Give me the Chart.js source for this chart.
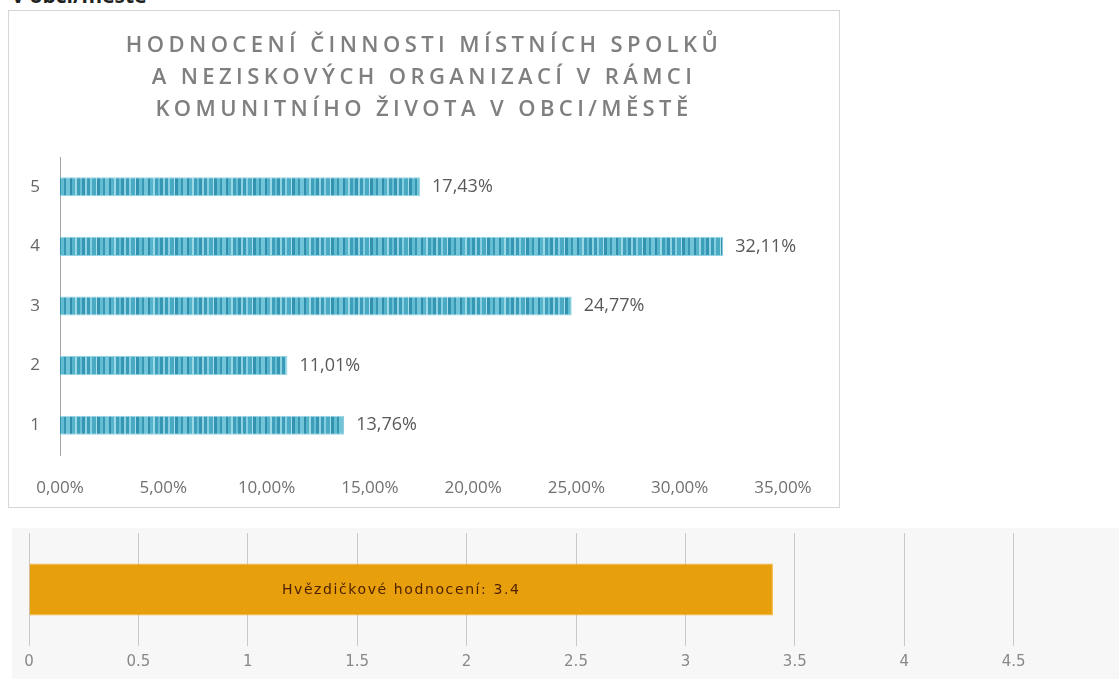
<!DOCTYPE html>
<html>
<head>
<meta charset="utf-8">
<script src="https://cdn.jsdelivr.net/npm/chart.js@4.4.1/dist/chart.umd.min.js"></script>
<style>
  body { margin: 0; width: 1119px; height: 679px; overflow: hidden; position: relative; background: #fff; }
  #head { position: absolute; left: 12px; top: -15px; font: bold 21px/21px "Open Sans", sans-serif; color: #222; white-space: nowrap; }
  #box1 { position: absolute; left: 8px; top: 10px; width: 830px; height: 496px; border: 1px solid #d6d6d6; }
  #title1 { position: absolute; left: 0; right: 0; top: 16px; text-align: center; color: #7f7f7f;
            font: 600 22px/32px "Open Sans", sans-serif; letter-spacing: 4.4px; }
  #box2 { position: absolute; left: 12px; top: 528px; width: 1130px; height: 151px; background: #f7f7f7; }
  canvas { position: absolute; left: 0; top: 0; }
</style>
</head>
<body>
<div id="head">v obci/městě</div>
<div id="box1">
  <canvas id="ratingChart" width="830" height="496"></canvas>
  <div id="title1">HODNOCENÍ ČINNOSTI MÍSTNÍCH SPOLKŮ<br>A NEZISKOVÝCH ORGANIZACÍ V RÁMCI<br>KOMUNITNÍHO ŽIVOTA V OBCI/MĚSTĚ</div>
</div>
<div id="box2">
  <canvas id="starChart" width="1130" height="151"></canvas>
</div>
<script>
const ratingLabels = ["5", "4", "3", "2", "1"];
const ratingShares = [17.43, 32.11, 24.77, 11.01, 13.76];
const starLabels = ["Hvězdičkové hodnocení"];
const starValues = [3.4];

// pruhovaná výplň sloupců
function stripePattern() {
  const stripes = [
    [3, "#3a9cb8"], [2, "#86cfe0"], [4, "#4aaac4"], [1, "#a8deeb"], [3, "#3193b0"],
    [3, "#62bcd2"], [2, "#3898b4"], [4, "#72c5d9"], [2, "#2f8fac"], [3, "#55b4cb"],
    [2, "#9ad8e6"], [3, "#3e9fba"], [2, "#68bfd5"], [3, "#3496b2"], [2, "#8ed2e2"],
  ];
  const w = stripes.reduce((s, t) => s + t[0], 0);
  const c = document.createElement("canvas");
  c.width = w;
  c.height = 4;
  const cx = c.getContext("2d");
  let x = 0;
  stripes.forEach(([sw, col]) => {
    cx.fillStyle = col;
    cx.fillRect(x, 0, sw, 4);
    x += sw;
  });
  return cx.createPattern(c, "repeat");
}

const pct = (v) => v.toFixed(2).replace(".", ",") + "%";

const shareLabels = {
  id: "shareLabels",
  afterDatasetsDraw(chart) {
    const ctx = chart.ctx;
    const meta = chart.getDatasetMeta(0);
    ctx.save();
    ctx.font = '18px "Open Sans"';
    ctx.fillStyle = "#595959";
    ctx.textBaseline = "middle";
    meta.data.forEach((bar, i) => {
      ctx.fillText(pct(ratingShares[i]), bar.x + 12, bar.y);
    });
    ctx.restore();
  },
};

const starLabel = {
  id: "starLabel",
  afterDatasetsDraw(chart) {
    const ctx = chart.ctx;
    const bar = chart.getDatasetMeta(0).data[0];
    ctx.save();
    ctx.font = '14px "DejaVu Sans"';
    ctx.letterSpacing = "1.6px";
    ctx.fillStyle = "#4e2200";
    ctx.textAlign = "center";
    ctx.textBaseline = "middle";
    ctx.fillText(starLabels[0] + ": " + starValues[0], (bar.base + bar.x) / 2, bar.y + 1);
    ctx.restore();
  },
};

new Chart(document.getElementById("ratingChart"), {
  type: "bar",
  data: {
    labels: ratingLabels,
    datasets: [
      {
        data: ratingShares,
        backgroundColor: stripePattern(),
        borderColor: "#93d4e3",
        borderWidth: 1,
        barPercentage: 0.32,
        categoryPercentage: 1,
      },
    ],
  },
  options: {
    indexAxis: "y",
    responsive: false,
    animation: false,
    layout: { padding: { top: 146, right: 56, bottom: 0, left: 0 } },
    plugins: { legend: { display: false }, tooltip: { enabled: false } },
    scales: {
      x: {
        min: 0,
        max: 35,
        grid: { display: false },
        border: { display: false },
        ticks: {
          stepSize: 5,
          padding: 15,
          color: "#707070",
          font: { family: "Open Sans", size: 17 },
          callback: (v) => pct(v),
        },
        afterFit: (s) => { s.height = 52; },
      },
      y: {
        grid: { drawOnChartArea: false, drawTicks: false },
        border: { display: true, color: "#a6a6a6", width: 1 },
        ticks: { padding: 20, color: "#666", font: { family: "Open Sans", size: 17 } },
        afterFit: (s) => { s.width = 51; },
      },
    },
  },
  plugins: [shareLabels],
});

new Chart(document.getElementById("starChart"), {
  type: "bar",
  data: {
    labels: starLabels,
    datasets: [
      {
        data: starValues,
        backgroundColor: "#e89f0c",
        borderColor: "#f2b63c",
        borderWidth: 1,
        barPercentage: 0.46,
        categoryPercentage: 1,
      },
    ],
  },
  options: {
    indexAxis: "y",
    responsive: false,
    animation: false,
    layout: { padding: { top: 5, right: 19, bottom: 0, left: 17 } },
    plugins: { legend: { display: false }, tooltip: { enabled: false } },
    scales: {
      x: {
        min: 0,
        max: 5,
        grid: { color: "#c8c8c8", drawTicks: false },
        border: { display: false },
        ticks: {
          stepSize: 0.5,
          padding: 7,
          color: "#888",
          font: { family: "DejaVu Sans", size: 15 },
          callback: (v) => String(v),
        },
        afterFit: (s) => { s.height = 33; },
      },
      y: { display: false },
    },
  },
  plugins: [starLabel],
});
</script>
</body>
</html>
